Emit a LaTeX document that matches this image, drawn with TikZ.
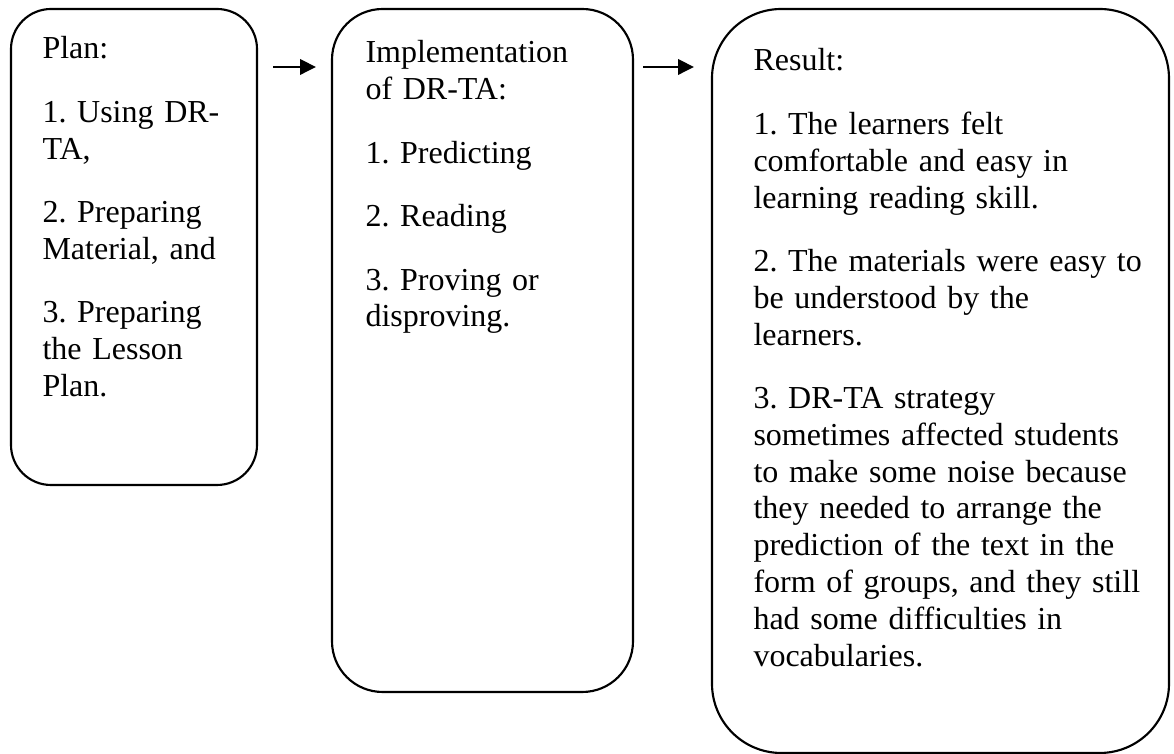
\documentclass[tikz,border=0pt]{standalone}
\usepackage{fontspec}
\setmainfont{Liberation Serif}
\usetikzlibrary{arrows.meta,fit}
\tikzset{
  box/.style={draw, line width=0.8pt, inner sep=0pt},
  txt/.style={anchor=base west, inner sep=0pt, align=left, text width=#1,
    font=\fontsize{12pt}{13.8pt}\selectfont\frenchspacing},
  arr/.style={line width=0.8pt, -{Triangle[length=6pt,width=5.8pt]}}
}
\begin{document}
\begin{tikzpicture}[x=0.375pt,y=-0.375pt]
\useasboundingbox (0,0) rectangle (1174,754);
% boxes
\node[box, rounded corners=15pt, fit={(11,9) (257,485)}] (b1) {};
\node[box, rounded corners=19pt, fit={(332,9) (633,692)}] (b2) {};
\node[box, rounded corners=26pt, fit={(712,9) (1169,753)}] (b3) {};
% texts
\node[txt=200pt] (t1) at (42,59) {Plan:\\[10pt]
1. Using DR-\\TA,\\[10pt]
2. Preparing\\Material, and\\[10pt]
3. Preparing\\the Lesson\\Plan.};
\node[txt=200pt] (t2) at (365,63) {Implementation\\of DR-TA:\\[10pt]
1. Predicting\\[10pt]
2. Reading\\[10pt]
3. Proving or\\disproving.};
\node[txt=300pt] (t3) at (753,71) {Result:\\[10pt]
1. The learners felt\\comfortable and easy in\\learning reading skill.\\[10pt]
2. The materials were easy to\\be understood by the\\learners.\\[10pt]
3. DR-TA strategy\\sometimes affected students\\to make some noise because\\they needed to arrange the\\prediction of the text in the\\form of groups, and they still\\had some difficulties in\\vocabularies.};
% arrows
\coordinate (a1s) at (273,67);
\coordinate (a1e) at (316,67);
\coordinate (a2s) at (643,67);
\coordinate (a2e) at (694,67);
\draw[arr] (a1s) -- (a1e);
\draw[arr] (a2s) -- (a2e);
\end{tikzpicture}
\end{document}
